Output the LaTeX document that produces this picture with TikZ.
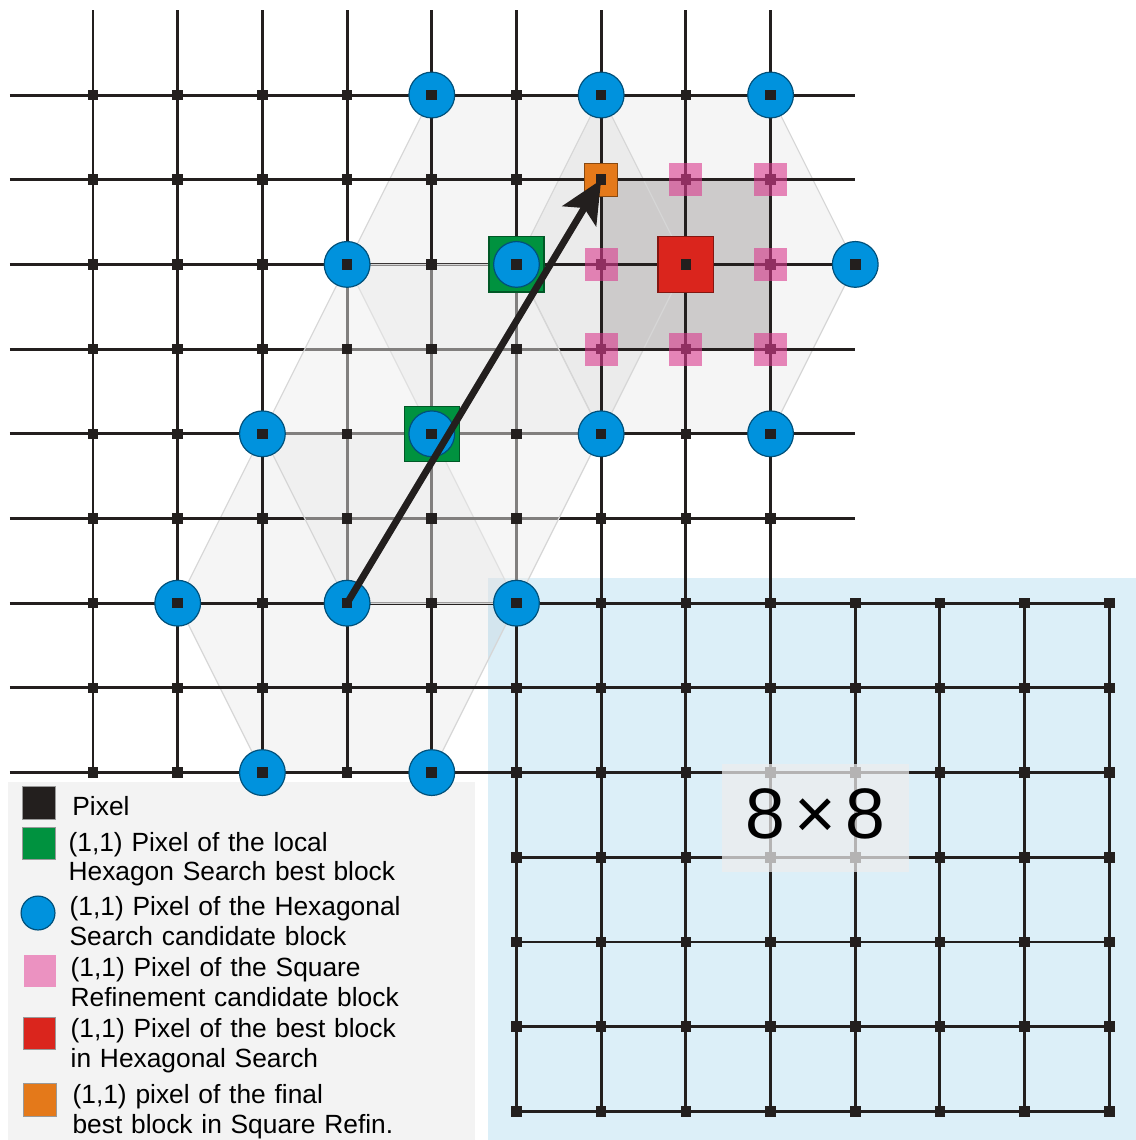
\documentclass[tikz,border=0pt]{standalone}
\usepackage{fontspec}
\setmainfont{Liberation Sans}
\usetikzlibrary{arrows.meta,positioning}
\definecolor{ink}{RGB}{35,31,30}
\definecolor{hexblue}{RGB}{0,146,221}
\definecolor{bestgreen}{RGB}{0,146,63}
\definecolor{bestred}{RGB}{218,37,29}
\definecolor{finorange}{RGB}{228,121,26}
\definecolor{refpink}{RGB}{218,58,142}
\definecolor{legpink}{RGB}{235,146,193}
\definecolor{skyblock}{RGB}{220,239,248}
\definecolor{legback}{RGB}{243,243,243}
\definecolor{refgray}{RGB}{205,203,203}
\tikzset{
  gridline/.style={draw=ink,line width=1pt},
  pix/.style={rectangle,fill=ink,minimum size=1.25mm,inner sep=0pt,outer sep=0pt},
  withpix/.style={label={[pix]center:}},
  cand/.style={circle,draw=hexblue!55!black,line width=0.4pt,fill=hexblue,minimum size=5.4mm,inner sep=0pt},
  localbest/.style={rectangle,draw=bestgreen!60!black,line width=0.4pt,fill=bestgreen,minimum size=6.5mm,inner sep=0pt},
  hexbest/.style={rectangle,draw=bestred!60!black,line width=0.4pt,fill=bestred,minimum size=6.6mm,inner sep=0pt},
  refcand/.style={rectangle,fill=refpink,fill opacity=0.6,minimum size=3.9mm,inner sep=0pt},
  finbest/.style={rectangle,draw=finorange!60!black,line width=0.4pt,fill=finorange,minimum size=3.9mm,inner sep=0pt},
  hexfill/.style={fill=black,fill opacity=0.04},
  hexedge/.style={draw=black!16,line width=0.4pt},
  hexveil/.style={hexedge,fill=black!8,fill opacity=0.47},
  blocktag/.style={fill=black!7,fill opacity=0.72,text opacity=1,minimum width=2.21cm,minimum height=1.27cm,inner sep=0pt,text depth=2.7pt,font=\fontsize{24}{24}\selectfont},
  legbox/.style={rectangle,minimum size=3.8mm,inner sep=0pt,draw=black!40,line width=0.3pt},
  legtext/.style={anchor=base west,inner sep=0pt,text width=4.6cm,align=left,font=\fontsize{8.85}{9.8}\selectfont},
  arr/.style={-{Stealth[length=5mm,width=4.6mm,inset=1.1mm]},draw=ink,line width=2.3pt}
}
\begin{document}
\begin{tikzpicture}[y=-1cm]
  \useasboundingbox (-1.098,-1.122) rectangle (12.303,12.338);
  \fill[skyblock] (4.66,5.70) rectangle (12.31,12.34);
  \fill[legback] (-1.0,8.11) rectangle (4.51,12.34);
  \foreach \cx/\cy in {3/6,5/2,7/2}
    \fill[hexfill] (\cx-2,\cy) -- ++(1,-2) -- ++(2,0) -- ++(1,2) -- ++(-1,2) -- ++(-2,0) -- cycle;
  \fill[refgray] (6,1) rectangle (8,3);
  \foreach \cx/\cy in {3/6,5/2,7/2}
    \draw[hexedge] (\cx-2,\cy) -- ++(1,-2) -- ++(2,0) -- ++(1,2) -- ++(-1,2) -- ++(-2,0) -- cycle;
  \foreach \i in {0,...,4} \draw[gridline] (\i,-1) -- (\i,8);
  \foreach \i in {5,...,8} \draw[gridline] (\i,-1) -- (\i,12);
  \foreach \i in {9,...,12} \draw[gridline] (\i,6) -- (\i,12);
  \foreach \j in {0,...,5} \draw[gridline] (-0.98,\j) -- (9,\j);
  \foreach \j in {6,7,8} \draw[gridline] (-0.98,\j) -- (12,\j);
  \foreach \j in {9,...,12} \draw[gridline] (5,\j) -- (12,\j);
  \filldraw[hexveil] (2,4) -- ++(1,-2) -- ++(2,0) -- ++(1,2) -- ++(-1,2) -- ++(-2,0) -- cycle;
  \foreach \i in {0,...,8} \foreach \j in {0,...,8} \node[pix] (px-\i-\j) at (\i,\j) {};
  \foreach \i in {5,...,12} \foreach \j in {9,...,12} \node[pix] (px-\i-\j) at (\i,\j) {};
  \foreach \i in {9,...,12} \foreach \j in {6,7,8} \node[pix] (px-\i-\j) at (\i,\j) {};
  \foreach \i/\j in {7/1,8/1,6/2,8/2,6/3,7/3,8/3} \node[refcand] (sq-\i-\j) at (\i,\j) {};
  \node[localbest] (lb-4-4) at (4,4) {};
  \node[localbest] (lb-5-2) at (5,2) {};
  \foreach \i/\j in {4/0,6/0,8/0,3/2,5/2,9/2,2/4,4/4,6/4,8/4,1/6,3/6,5/6,2/8,4/8}
    \node[cand,withpix] (c-\i-\j) at (\i,\j) {};
  \node[hexbest,withpix] (hb) at (7,2) {};
  \node[finbest,withpix] (fin) at (6,1) {};
  \draw[arr] (c-3-6.center) -- (fin.center);
  \node[blocktag] (blk) at (8.53,8.535) {8\kern3pt×\kern3pt8};
  \node[legbox,fill=ink] (key-pix) at (-0.638,8.359) {};
  \node[legtext] (txt-pix) at (-0.25,8.501) {Pixel};
  \node[legbox,fill=bestgreen] (key-lb) at (-0.638,8.837) {};
  \node[legtext] (txt-lb) at (-0.295,8.926) {(1,1) Pixel of the local\\Hexagon Search best block};
  \node[cand,minimum size=4mm] (key-hc) at (-0.649,9.658) {};
  \node[legtext] (txt-hc) at (-0.283,9.693) {(1,1) Pixel of the Hexagonal\\Search candidate block};
  \node[legbox,fill=legpink,draw=none] (key-sq) at (-0.626,10.342) {};
  \node[legtext] (txt-sq) at (-0.27,10.413) {(1,1) Pixel of the Square\\Refinement candidate block};
  \node[legbox,fill=bestred] (key-hb) at (-0.632,11.08) {};
  \node[legtext] (txt-hb) at (-0.27,11.133) {(1,1) Pixel of the best block\\in Hexagonal Search};
  \node[legbox,fill=finorange] (key-fin) at (-0.626,11.865) {};
  \node[legtext] (txt-fin) at (-0.248,11.912) {(1,1) pixel of the final\\best block in Square Refin.};
\end{tikzpicture}
\end{document}
